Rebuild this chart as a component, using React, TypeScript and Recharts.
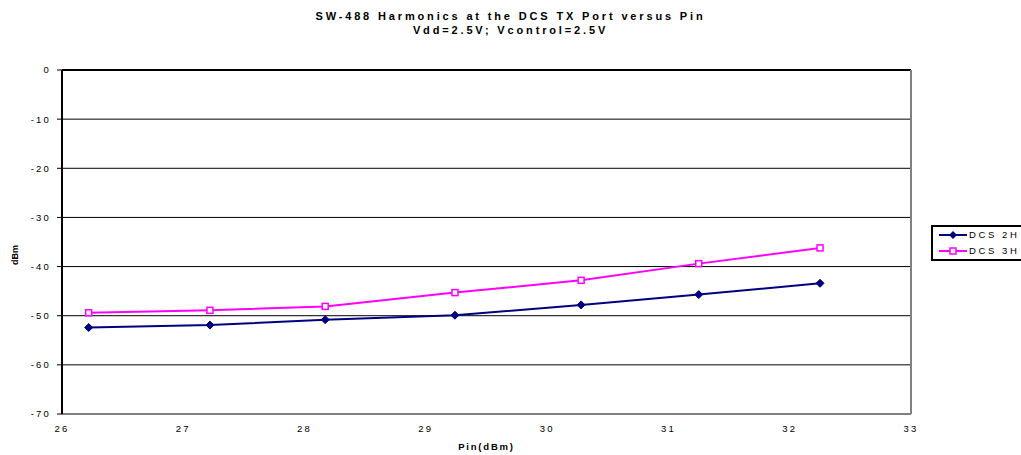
import React from 'react';
import { LineChart, Line, XAxis, YAxis, CartesianGrid, Legend, ReferenceLine } from 'recharts';

const pinValues = [26.22, 27.22, 28.17, 29.24, 30.28, 31.25, 32.25];
const dcs2h = [-52.4, -51.9, -50.8, -49.9, -47.8, -45.7, -43.4];
const dcs3h = [-49.4, -48.9, -48.1, -45.3, -42.8, -39.4, -36.2];
const xTicks = [26, 27, 28, 29, 30, 31, 32, 33];
const yTicks = [-70, -60, -50, -40, -30, -20, -10, 0];

const colors = {
  navy: '#000080',
  magenta: '#ff00ff',
  grey: '#808080',
  text: '#000000',
};

const font = '"Liberation Sans", Arial, sans-serif';

const data = pinValues.map((pin, i) => ({ pin, dcs2h: dcs2h[i], dcs3h: dcs3h[i] }));

const Diamond = (props: any) => {
  const { cx, cy } = props;
  if (cx == null || cy == null) return null;
  const r = 4;
  return (
    <polygon
      points={`${cx},${cy - r} ${cx + r},${cy} ${cx},${cy + r} ${cx - r},${cy}`}
      fill={colors.navy}
      stroke={colors.navy}
    />
  );
};

const Square = (props: any) => {
  const { cx, cy } = props;
  if (cx == null || cy == null) return null;
  return (
    <rect x={cx - 3} y={cy - 3} width={6} height={6} fill="#fff" stroke={colors.magenta} strokeWidth={1.5} />
  );
};

const LegendBox = () => (
  <div
    style={{
      border: '2px solid #000',
      width: 100,
      padding: '0 0 0 6px',
      fontFamily: font,
      fontSize: 9.5,
      letterSpacing: 2.6,
      lineHeight: '16px',
      background: '#fff',
      boxSizing: 'border-box',
    }}
  >
    {[
      { name: 'DCS 2H', color: colors.navy, kind: 'diamond' },
      { name: 'DCS 3H', color: colors.magenta, kind: 'square' },
    ].map((item) => (
      <div key={item.name} style={{ display: 'flex', alignItems: 'center', whiteSpace: 'nowrap' }}>
        <svg width={28} height={10} style={{ marginRight: 2 }}>
          <line x1={0} y1={5} x2={28} y2={5} stroke={item.color} strokeWidth={2} />
          {item.kind === 'diamond' ? (
            <polygon points="14,1 18,5 14,9 10,5" fill={item.color} />
          ) : (
            <rect x={11} y={2} width={6} height={6} fill="#fff" stroke={item.color} strokeWidth={1.5} />
          )}
        </svg>
        <span>{item.name}</span>
      </div>
    ))}
  </div>
);

const YLabel = (props: any) => {
  const { viewBox } = props;
  const x = 15;
  const y = viewBox.y + viewBox.height / 2 + 13;
  return (
    <text
      x={x}
      y={y}
      transform={`rotate(-90, ${x}, ${y})`}
      textAnchor="middle"
      dominantBaseline="central"
      style={{ fontSize: 9, fontWeight: 'bold', fill: '#000', fontFamily: font }}
    >
      dBm
    </text>
  );
};

const tickStyle = { fontSize: 9.5, fill: '#000', fontFamily: font, letterSpacing: 2.2 };

export default function App() {
  return (
    <div
      style={{
        position: 'absolute',
        left: 0,
        top: 0,
        width: 1021,
        height: 455,
        overflow: 'hidden',
        background: '#fff',
        fontFamily: font,
      }}
    >
      <div
        style={{
          position: 'absolute',
          top: 9,
          left: 0,
          width: 1021,
          textAlign: 'center',
          fontWeight: 'bold',
          fontSize: 11,
          letterSpacing: 2.85,
          lineHeight: '14px',
          color: colors.text,
        }}
      >
        <div>SW-488 Harmonics at the DCS TX Port versus Pin</div>
        <div>Vdd=2.5V; Vcontrol=2.5V</div>
      </div>
      <LineChart
        width={1021}
        height={455}
        data={data}
        margin={{ top: 70, right: 110, left: 22, bottom: 3 }}
      >
        <CartesianGrid horizontal vertical={false} stroke="#000" strokeWidth={1} />
        <XAxis
          type="number"
          dataKey="pin"
          domain={[26, 33]}
          ticks={xTicks}
          allowDataOverflow
          height={38}
          tickLine={false}
          axisLine={{ stroke: colors.grey, strokeWidth: 2 }}
          tick={tickStyle}
          tickMargin={5}
          label={{
            value: 'Pin(dBm)',
            position: 'insideBottom',
            offset: 2,
            style: { fontSize: 9.5, fontWeight: 'bold', fill: '#000', fontFamily: font, letterSpacing: 1.8 },
          }}
        />
        <YAxis
          type="number"
          domain={[-70, 0]}
          ticks={yTicks}
          width={40}
          tickSize={5}
          tickLine={{ stroke: '#000' }}
          axisLine={{ stroke: '#000', strokeWidth: 2 }}
          tick={tickStyle}
          tickMargin={6}
          label={<YLabel />}
        />
        <ReferenceLine y={0} stroke="#000" strokeWidth={2} />
        <ReferenceLine x={33} stroke={colors.grey} strokeWidth={2} />
        <Legend
          layout="horizontal"
          align="center"
          verticalAlign="middle"
          wrapperStyle={{ left: 931, top: 225, width: 100 }}
          content={() => <LegendBox />}
        />
        <Line
          type="linear"
          dataKey="dcs2h"
          name="DCS 2H"
          stroke={colors.navy}
          strokeWidth={2}
          dot={<Diamond />}
          isAnimationActive={false}
        />
        <Line
          type="linear"
          dataKey="dcs3h"
          name="DCS 3H"
          stroke={colors.magenta}
          strokeWidth={2}
          dot={<Square />}
          isAnimationActive={false}
        />
      </LineChart>
    </div>
  );
}
